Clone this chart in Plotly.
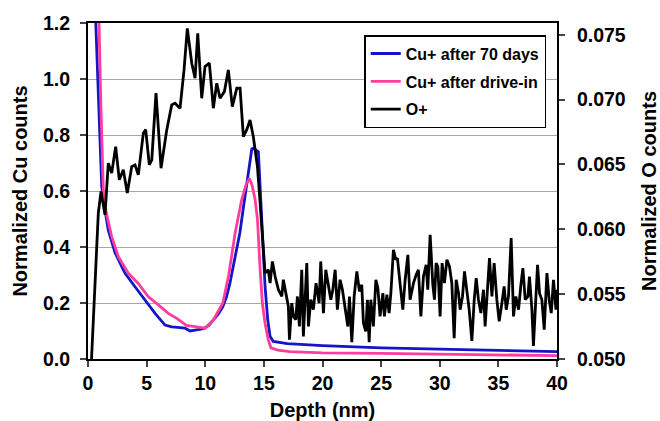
import plotly.graph_objects as go

# ---- data ----
cu70_depth = [0.55, 0.66, 0.9, 1.17, 1.45, 1.73, 2.3, 3.16, 4.01, 4.86, 5.72, 6.57, 7.14,
              7.85, 8.28, 8.7, 9.3, 9.84, 10.3, 10.7, 11.1, 11.5, 11.8, 12.1, 12.4, 12.7,
              12.95, 13.25, 13.6, 13.97, 14.1, 14.53, 14.68, 14.87, 15.1, 15.33, 15.53,
              15.8, 17.0, 20.0, 25.0, 30.0, 35.0, 40.0]
cu70_val = [1.33, 1.2, 0.88, 0.615, 0.532, 0.46, 0.38, 0.306, 0.258, 0.21, 0.163, 0.121, 0.115,
            0.112, 0.11, 0.1, 0.103, 0.108, 0.12, 0.14, 0.16, 0.187, 0.22, 0.27, 0.33, 0.40,
            0.45, 0.54, 0.65, 0.75, 0.753, 0.74, 0.616, 0.437, 0.259, 0.14, 0.08,
            0.063, 0.055, 0.048, 0.04, 0.035, 0.03, 0.026]

cudi_depth = [0.82, 0.94, 1.1, 1.31, 1.45, 1.88, 2.02, 2.59, 3.44, 4.29, 5.15, 6.0, 6.85,
              7.57, 8.0, 8.4, 9.27, 9.98, 10.7, 11.5, 12.0, 12.55, 13.1, 13.5, 13.77,
              14.0, 14.25, 14.45, 14.68, 14.87, 15.1, 15.38, 15.6, 16.2, 17.2, 20.0, 25.0,
              30.0, 35.0, 40.0]
cudi_val = [1.33, 1.2, 0.9, 0.6, 0.544, 0.47, 0.437, 0.365, 0.306, 0.27, 0.222, 0.193, 0.163,
            0.145, 0.133, 0.12, 0.115, 0.11, 0.14, 0.2, 0.30, 0.45, 0.568, 0.625, 0.645,
            0.62, 0.57, 0.5, 0.32, 0.2, 0.128, 0.068, 0.04, 0.032, 0.026, 0.022, 0.02,
            0.017, 0.014, 0.012]

o_depth = [0.30, 0.60, 0.88, 1.11, 1.45, 1.73, 2.02, 2.36, 2.67, 3.01, 3.35, 3.73, 4.01, 4.29,
           4.72, 4.92, 5.23, 5.44, 5.80, 6.23, 6.72, 7.14, 7.42, 7.85, 8.19, 8.47, 8.85, 9.13,
           9.36, 9.70, 9.98, 10.35, 10.69, 10.98, 11.26, 11.63, 11.97, 12.31, 12.69, 12.97,
           13.25, 13.54, 13.82, 14.10, 14.45, 14.62, 14.74, 14.96, 15.10, 15.38, 15.53, 15.73,
           15.96, 16.24, 16.53, 16.66, 16.95, 17.09, 17.18, 17.38, 17.52, 17.72, 17.86, 18.03,
           18.23, 18.37, 18.66, 18.80, 19.00, 19.22, 19.45, 19.71, 19.85, 20.08, 20.28, 20.50,
           20.71, 20.88, 21.08, 21.27, 21.50, 21.70, 21.93, 22.16, 22.30, 22.50, 22.70, 22.93,
           23.15, 23.35, 23.49, 23.69, 23.83, 23.98, 24.12, 24.34, 24.55, 24.72, 24.91, 25.15,
           25.28, 25.49, 25.68, 25.83, 26.05, 26.25, 26.39, 26.62, 26.85, 27.05, 27.28, 27.47,
           27.76, 27.99, 28.18, 28.39, 28.61, 28.84, 28.98, 29.18, 29.41, 29.55, 29.69, 29.84,
           30.03, 30.20, 30.40, 30.61, 30.83, 31.03, 31.23, 31.40, 31.60, 31.74, 31.94, 32.11,
           32.31, 32.51, 32.74, 32.94, 33.11, 33.30, 33.51, 33.73, 33.87, 34.07, 34.24, 34.45,
           34.64, 34.87, 35.07, 35.30, 35.49, 35.67, 35.86, 36.09, 36.29, 36.49, 36.72, 36.92,
           37.09, 37.29, 37.52, 37.65, 37.86, 37.99, 38.20, 38.34, 38.51, 38.71, 38.91, 39.14,
           39.33, 39.51, 39.70, 39.91, 40.0]
o_val = [0.05000, 0.05636, 0.06124, 0.06291, 0.06111, 0.06510, 0.06433, 0.06637, 0.06381,
         0.06458, 0.06279, 0.06483, 0.06496, 0.06419, 0.06741, 0.06768, 0.06496, 0.06535,
         0.07049, 0.06471, 0.06768, 0.06959, 0.06972, 0.06933, 0.07228, 0.07549, 0.07280,
         0.07164, 0.07511, 0.07010, 0.07254, 0.07280, 0.06933, 0.07126, 0.07010, 0.07061,
         0.07228, 0.06946, 0.07087, 0.07087, 0.06714, 0.06768, 0.06843, 0.06714, 0.06483,
         0.06279, 0.06124, 0.05842, 0.05662, 0.05688, 0.05585, 0.05752, 0.05636, 0.05534,
         0.05482, 0.05611, 0.05482, 0.05405, 0.05149, 0.05431, 0.05328, 0.05303, 0.05482,
         0.05251, 0.05688, 0.05174, 0.05739, 0.05251, 0.05457, 0.05380, 0.05585, 0.05431,
         0.05752, 0.05354, 0.05688, 0.05585, 0.05457, 0.05534, 0.05688, 0.05380, 0.05611,
         0.05534, 0.05380, 0.05251, 0.05482, 0.05130, 0.05482, 0.05675, 0.05521, 0.05572,
         0.05277, 0.05213, 0.05457, 0.05130, 0.05457, 0.05251, 0.05611, 0.05547, 0.05328,
         0.05508, 0.05328, 0.05495, 0.05354, 0.05508, 0.05842, 0.05765, 0.05778, 0.05585,
         0.05380, 0.05611, 0.05803, 0.05457, 0.05585, 0.05649, 0.05688, 0.05328, 0.05636,
         0.05726, 0.05534, 0.05957, 0.05572, 0.05457, 0.05739, 0.05713, 0.05328, 0.05739,
         0.05585, 0.05765, 0.05713, 0.05585, 0.05160, 0.05611, 0.05508, 0.05380, 0.05482,
         0.05675, 0.05534, 0.05380, 0.05140, 0.05457, 0.05624, 0.05457, 0.05354, 0.05534,
         0.05251, 0.05559, 0.05778, 0.05482, 0.05739, 0.05457, 0.05290, 0.05431, 0.05559,
         0.05380, 0.05482, 0.05932, 0.05328, 0.05482, 0.05380, 0.05572, 0.05701, 0.05457,
         0.05482, 0.05636, 0.05380, 0.05100, 0.05534, 0.05726, 0.05508, 0.05457, 0.05226,
         0.05662, 0.05457, 0.05354, 0.05611, 0.05380, 0.05534]

x_ticks = [0, 5, 10, 15, 20, 25, 30, 35, 40]
y1_ticks = [0.0, 0.2, 0.4, 0.6, 0.8, 1.0, 1.2]
y2_ticks = [0.050, 0.055, 0.060, 0.065, 0.070, 0.075]

FONT = "Liberation Sans, Arial, sans-serif"
TF = dict(size=19.5, weight="bold", family=FONT, color="black")
TT = dict(size=20, weight="bold", family=FONT, color="black")

fig = go.Figure()
fig.add_trace(go.Scatter(x=cu70_depth, y=cu70_val, mode="lines", name="Cu+ after 70 days",
                         line=dict(color="#1414c8", width=2.8), legendgroup="a"))
fig.add_trace(go.Scatter(x=cudi_depth, y=cudi_val, mode="lines", name="Cu+ after drive-in",
                         line=dict(color="#ff3d9e", width=2.8), legendgroup="b"))
fig.add_trace(go.Scatter(x=o_depth, y=o_val, mode="lines", name="O+", yaxis="y2",
                         line=dict(color="black", width=2.8), legendgroup="c"))

fig.update_layout(
    width=660, height=421,
    margin=dict(l=88, r=103, t=23, b=62, autoexpand=False),
    paper_bgcolor="white", plot_bgcolor="white",
    font=dict(family=FONT, size=18, color="black", weight="bold"),
    xaxis=dict(range=[0, 40], tickvals=x_ticks, ticks="outside", ticklen=6, tickwidth=2,
               showline=True, linewidth=2, linecolor="black", mirror=True,
               showgrid=False, zeroline=False, automargin=False,
               title=dict(text="Depth (nm)", font=TT),
               tickfont=TF),
    yaxis=dict(range=[0, 1.2], tickvals=y1_ticks, tickformat=".1f", ticks="outside",
               ticklen=6, tickwidth=2, showline=True, linewidth=2, linecolor="black",
               showgrid=True, gridcolor="#a6a6a6", gridwidth=1, zeroline=False,
               ticklabelstandoff=6, automargin=False,
               title=dict(text="Normalized Cu counts", font=TT, standoff=10),
               tickfont=TF),
    yaxis2=dict(range=[0.05, 0.0759], tickvals=y2_ticks, tickformat=".3f", ticks="outside",
                ticklen=6, tickwidth=2, showline=True, linewidth=2, linecolor="black",
                overlaying="y", side="right", showgrid=False, zeroline=False,
                ticklabelstandoff=8, automargin=False,
                title=dict(text="Normalized O counts", font=TT, standoff=22),
                tickfont=TF),
    legend=dict(x=0.589, y=0.964, xanchor="left", yanchor="top",
                bgcolor="white", bordercolor="black", borderwidth=1.5,
                font=dict(size=16, weight="bold", family=FONT, color="black"),
                traceorder="grouped", tracegroupgap=4, itemwidth=30),
    showlegend=True,
)

fig.write_html("out.html")
